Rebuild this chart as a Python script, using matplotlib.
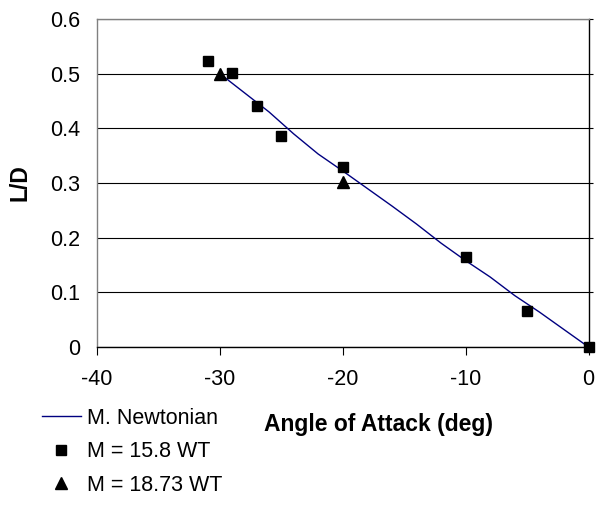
import matplotlib
matplotlib.use("Agg")
import matplotlib.pyplot as plt

plt.rcParams['font.family'] = ['Liberation Sans', 'DejaVu Sans']

# Modified Newtonian curve
newt_alpha = [-30, -28, -26, -24, -22, -20, -18, -16, -14, -12, -10, -8, -6, -4, -2, 0]
newt_ld = [0.500, 0.465, 0.430, 0.390, 0.353, 0.322, 0.290, 0.258, 0.225, 0.190,
           0.158, 0.128, 0.094, 0.064, 0.032, 0.000]

# M = 15.8 WT
wt158_alpha = [-31, -29, -27, -25, -20, -10, -5, 0]
wt158_ld = [0.524, 0.501, 0.441, 0.386, 0.330, 0.165, 0.066, 0.000]

# M = 18.73 WT
wt1873_alpha = [-30, -20]
wt1873_ld = [0.499, 0.302]

xticks = [-40, -30, -20, -10, 0]
yticks = [0, 0.1, 0.2, 0.3, 0.4, 0.5, 0.6]
yticklabels = ['0', '0.1', '0.2', '0.3', '0.4', '0.5', '0.6']

fig = plt.figure(figsize=(5.97, 5.08), dpi=100)
ax = fig.add_axes([97/597, 1-347/508, (588.5-97)/597, (347-19)/508])

ax.plot(newt_alpha, newt_ld, color='#000080', lw=1.0, label='M. Newtonian', zorder=3)
ax.plot(wt158_alpha, wt158_ld, ls='none', marker='s', ms=7.5, color='black',
        label='M = 15.8 WT', zorder=4, clip_on=False)
ax.plot(wt1873_alpha, wt1873_ld, ls='none', marker='^', ms=9, color='black',
        label='M = 18.73 WT', zorder=4, clip_on=False)

ax.set_xlim(-40, 0)
ax.set_ylim(0, 0.6)
ax.set_xticks(xticks)
ax.set_xticklabels([str(t) for t in xticks])
ax.set_yticks(yticks)
ax.set_yticklabels(yticklabels)

ax.grid(axis='y', color='black', lw=0.8, zorder=1)
ax.set_axisbelow(True)

for s in ['left', 'top']:
    ax.spines[s].set_color('#808080')
    ax.spines[s].set_linewidth(1.0)
for s in ['right', 'bottom']:
    ax.spines[s].set_color('black')
    ax.spines[s].set_linewidth(1.0)

ax.tick_params(axis='x', direction='out', length=6, width=0.8, pad=10, labelsize=15.5)
ax.tick_params(axis='y', left=False, right=True, direction='out', length=3, width=0.8,
               labelleft=True, labelright=False, pad=9, labelsize=15.5)

fig.text(20/597, 1-183/508, 'L/D', rotation=90, fontsize=16.5, fontweight='bold',
         ha='center', va='center')
fig.text(378/597, 1-424/508, 'Angle of Attack (deg)', fontsize=16.5, fontweight='bold',
         ha='center', va='center')

leg = ax.legend(loc='upper left', bbox_to_anchor=(42/597, 1-408/508),
                bbox_transform=fig.transFigure, frameon=False, fontsize=15.5,
                handlelength=1.8, handletextpad=0.3, labelspacing=0.58,
                borderpad=0, borderaxespad=0)

fig.savefig('out.png', dpi=100)
